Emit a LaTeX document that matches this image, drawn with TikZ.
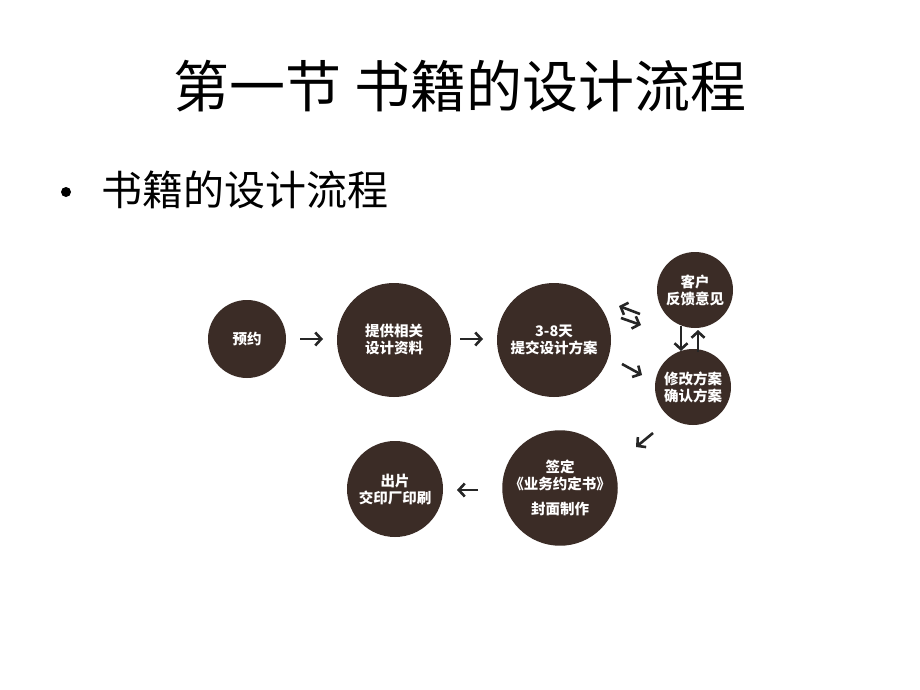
\documentclass[tikz,border=0pt]{standalone}
\usepackage{fontspec}
\setmainfont{Noto Sans CJK SC}
\usetikzlibrary{arrows.meta}
\definecolor{disc}{HTML}{3B2C26}
\tikzset{
  stage/.style={circle, fill=disc, draw=none, inner sep=0pt, text=white, align=center,
    font=\fontsize{14.5}{17}\selectfont\bfseries},
  flow/.style={-{Straight Barb[length=6pt,width=13pt]}, line width=2.6pt, draw=black!85},
}
\begin{document}
\begin{tikzpicture}[x=1pt,y=-1pt]
\useasboundingbox (0,0) rectangle (920,690);
\fill[white] (0,0) rectangle (920,690);
\node (title) at (460,86) {\fontsize{56}{62}\selectfont 第一节 书籍的设计流程};
\fill (66,192) circle (5);
\coordinate (bul) at (66,192);
\node[anchor=west, inner sep=0pt] (sub) at (101,190) {\fontsize{41}{46}\selectfont 书籍的设计流程};

\node[stage, minimum size=78pt] (yy) at (247,339) {预约};
\node[stage, minimum size=114pt] (tg) at (394,340) {提供相关\\设计资料};
\node[stage, minimum size=114pt] (tj) at (554,340) {3-8天\\提交设计方案};
\node[stage, minimum size=76pt] (kh) at (695,290) {客户\\反馈意见};
\node[stage, minimum size=76pt] (xg) at (693,387) {修改方案\\确认方案};
\node[stage, minimum size=114pt] (qd) at (560,488) {签定\\《业务约定书》\\[8pt]封面制作};
\node[stage, minimum size=96pt] (cp) at (395,489) {出片\\交印厂印刷};

\coordinate (a1s) at (300,339); \coordinate (a1e) at (323,339);
\draw[flow] (a1s) -- (a1e);
\coordinate (a2s) at (460,339); \coordinate (a2e) at (483,339);
\draw[flow] (a2s) -- (a2e);
\coordinate (a3s) at (640,314); \coordinate (a3e) at (619,306);
\draw[flow] (a3s) -- (a3e);
\coordinate (a4s) at (621,318); \coordinate (a4e) at (641,325);
\draw[flow] (a4s) -- (a4e);
\coordinate (a5s) at (622,364); \coordinate (a5e) at (642,375);
\draw[flow] (a5s) -- (a5e);
\coordinate (a6s) at (681,326); \coordinate (a6e) at (681,351);
\draw[flow] (a6s) -- (a6e);
\coordinate (a7s) at (698,352); \coordinate (a7e) at (698,330);
\draw[flow] (a7s) -- (a7e);
\coordinate (a8s) at (653,433); \coordinate (a8e) at (636,447);
\draw[flow] (a8s) -- (a8e);
\coordinate (a9s) at (478,490); \coordinate (a9e) at (457,490);
\draw[flow] (a9s) -- (a9e);
\end{tikzpicture}
\end{document}
